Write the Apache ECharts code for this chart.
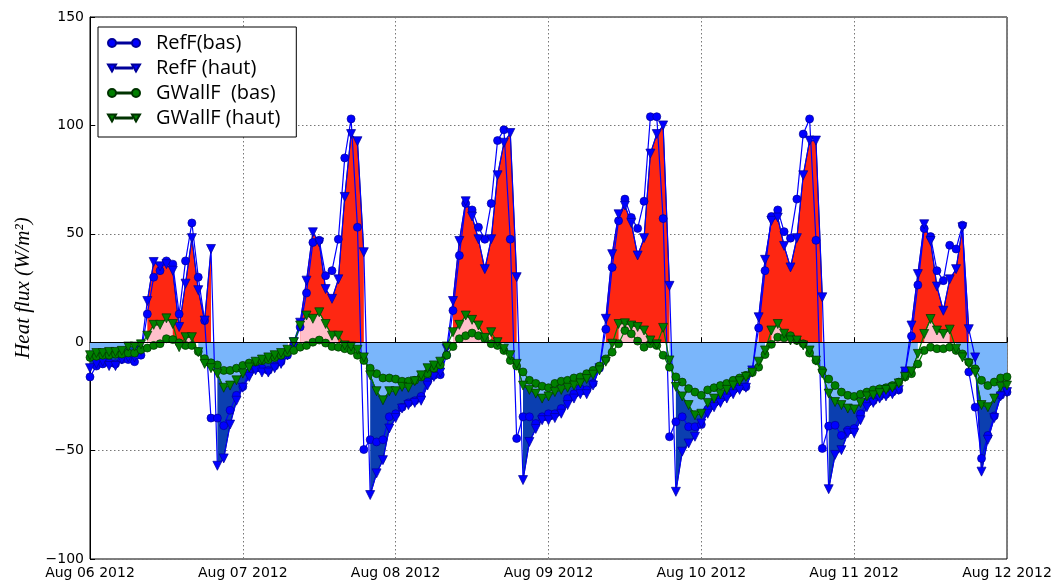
<!DOCTYPE html>
<html>
<head>
<meta charset="utf-8">
<script src="https://cdn.jsdelivr.net/npm/echarts@6/dist/echarts.min.js"></script>
<style>
  html, body { margin: 0; padding: 0; background: #fff; }
  #chart { width: 1057px; height: 580px; }
</style>
</head>
<body>
<div id="chart"></div>
<script>
// Hourly heat flux, 6 Aug 2012 00:00 to 12 Aug 2012 00:00 (one value per hour, 145 values)
const dayLabels = ['Aug 06 2012', 'Aug 07 2012', 'Aug 08 2012', 'Aug 09 2012', 'Aug 10 2012', 'Aug 11 2012', 'Aug 12 2012'];

const refBas = [
  -16, -11, -10, -9.5, -10, -8, -8, -9, -6, 13, 30, 33, 37.5, 36, 13, 37.5, 55, 30, 10, -35, -35, -38.5, -31.4, -24.5,
  -20.5, -14, -12, -12, -13, -11, -9, -6, -1, 7, 22.7, 46, 47, 30.7, 33, 47.5, 85, 103, 53, -49.5, -45, -46, -45, -34.4,
  -33, -30, -28, -27, -25, -18.3, -15.3, -15, -6, 14.6, 40, 64, 61, 53, 47.5, 64, 93, 98, 47.5, -44.4, -34.4, -34.4, -37.5, -34.4,
  -33, -33, -30.6, -26, -23.8, -21.4, -22, -19, -12, 6, 34.5, 56, 66, 57.5, 52.5, 65, 104, 104, 57, -43.6, -36.7, -34.4, -39, -39,
  -38, -31, -28, -26, -23.7, -22, -20.6, -20.6, -13, 6.6, 33, 58, 61, 51, 48, 66, 96, 103, 47, -49, -38.7, -38.3, -43, -40.6,
  -39.8, -33, -28, -27, -25, -24, -23, -22, -13.7, 2.8, 26.4, 52.4, 48.7, 33, 28.4, 44.7, 43, 54, -13.7, -30, -53.6, -43, -34, -24.5,
  -23
];

const refHaut = [
  -12, -10, -9, -11, -11, -8, -7, -7, -4, 19, 37, 35, 36, 33, 7, 27, 48, 24, 10, 43, -57, -53.6, -38, -27,
  -21, -16, -13, -14, -14, -12, -10, -6, 0, 9, 28.4, 50.7, 46, 24.5, 20, 29, 67, 96, 92.7, 41.5, -70.5, -60.5, -54.4, -39.8,
  -35, -30.6, -29, -28, -27, -20, -16, -14, -3, 19, 46.7, 65, 58, 47.5, 33.7, 47.5, 77, 92, 96.5, 30, -63.6, -46, -40, -36,
  -36, -35, -33, -29, -26, -24, -24, -20, -12, 10.8, 40.6, 59, 63, 55, 40, 48, 87, 96, 100, 26, -69, -50.5, -46.7, -43.6,
  -37.5, -33, -30, -28, -26, -24, -22, -21, -13, 11.5, 38, 56, 57.5, 44.4, 34.5, 48, 77, 93, 93, 20.7, -67.8, -52, -49.8, -42,
  -42, -36, -30, -28, -26, -25, -24, -22, -13.5, 7.7, 31.4, 54.4, 46.7, 25.7, 14.5, 29, 33.7, 53, 6, -7, -59.7, -45, -35, -25,
  -23
];

const gwallBas = [
  -7, -6.5, -6, -6, -5.5, -5.5, -5, -5, -3.5, -2.7, -1.5, -0.7, 1.6, 1.2, -0.3, -1.5, -1.5, -4.3, -7.6, -9.5, -10.5, -13, -13, -12,
  -10.7, -9.6, -9, -8.5, -8, -7, -6, -4.8, -3.8, -2.3, -1.5, 0, 1, -0.4, -2, -2.3, -3, -3.8, -6, -8.4, -12, -14.5, -16.5, -16.5,
  -17, -18, -18, -17.6, -16, -14.5, -12, -10.5, -6, -2, 1.6, 3, 4.2, 3, 1.6, -0.7, -1.5, -3.8, -8.4, -11, -13.7, -17.6, -19, -20.3,
  -21, -19, -18, -17.6, -16.5, -16, -14.5, -13, -11, -7.7, -4.6, -0.7, 5.4, 3.9, 0.5, -2.3, -0.7, -1.5, -6, -11.5, -16, -18.4, -21.4, -23,
  -24.5, -22, -21, -20, -19, -17.6, -16.5, -15.3, -14, -11.5, -5.7, -1, 2.3, 2, 3, 0.8, -0.7, -5, -8.4, -13, -17, -20, -23, -24.5,
  -25, -24, -23, -22, -21.5, -21, -20, -18.4, -16, -14.5, -10, -3.8, -2.3, -3, -3, -2.3, -3.8, -5.4, -9.2, -12.3, -17.6, -20, -18.4, -16.5,
  -16
];

const gwallHaut = [
  -6, -5, -5, -4.5, -4.5, -4, -2, -2, -1, 3, 8, 8, 11, 8.4, -2.3, 2.3, 2.3, -4.6, -10, -12, -14.5, -21, -20, -17.6,
  -14.5, -11.7, -9, -8, -7, -6, -5, -3.5, 0, 7.7, 12.3, 10.8, 13.8, 8.4, 3, 3, -1.5, -2, -3.5, -7, -15.3, -22.6, -26.8, -22.6,
  -22.6, -20.6, -21, -18, -15.3, -12, -10.7, -9, -2, 4.6, 8, 12.3, 10.3, 7.7, 2, 4.6, 0, -3, -6, -10, -20, -22, -23.7, -26,
  -25, -23, -22, -21, -20, -19, -17, -15, -13, -9, -0.7, 8.4, 8.7, 7.7, 7, 5.4, 0.8, -1, 6.6, -8.4, -20.6, -25, -29, -33.7,
  -33, -28, -26, -24, -22, -20, -18, -16, -14, -9, -3.8, 5.4, 8.4, 3.9, 0.8, 0.8, -1.5, -3.8, -8.5, -14.5, -23.7, -27.6, -29, -30.6,
  -31, -28, -25, -24.5, -23.5, -22, -21, -19, -16, -13.5, -5.4, 3.8, 10.7, 5.4, 3.8, 5.8, -3, -7, -10, -14, -29, -30, -26, -20.6,
  -20
];

const seriesNames = ['RefF(bas)', 'RefF (haut)', 'GWallF  (bas)', 'GWallF (haut)'];

// legend icons: line with a marker at each end
const ICON_CIRCLES = 'path://M0,4 A4,4 0 1 1 8,4 A4,4 0 1 1 0,4 Z M8,3.5 L24,3.5 L24,4.5 L8,4.5 Z M24,4 A4,4 0 1 1 32,4 A4,4 0 1 1 24,4 Z';
const ICON_TRIANGLES = 'path://M0,0.5 L8,0.5 L4,7.5 Z M8,3.5 L24,3.5 L24,4.5 L8,4.5 Z M24,0.5 L32,0.5 L28,7.5 Z';

const toPoints = arr => arr.map((v, i) => [i, v]);

// filled region between zero and the series, only where the sign condition holds
function fillSeries(src, positive, color) {
  return {
    type: 'line',
    data: src.map((v, i) => [i, positive ? (v > 0 ? v : null) : (v < 0 ? v : null)]),
    symbol: 'none',
    showSymbol: false,
    connectNulls: false,
    lineStyle: { width: 0.8, color: '#000' },
    areaStyle: { color: color, opacity: 1, origin: 0 },
    silent: true,
    z: 1
  };
}

function markerSeries(name, arr, color, edge, triangle) {
  return {
    name: name,
    type: 'line',
    data: toPoints(arr),
    symbol: triangle ? 'triangle' : 'circle',
    symbolRotate: triangle ? 180 : 0,
    symbolSize: triangle ? 9 : 8,
    showAllSymbol: true,
    lineStyle: { color: color, width: 1.2 },
    itemStyle: { color: color, borderColor: edge, borderWidth: 0.7 },
    z: 3
  };
}

const chart = echarts.init(document.getElementById('chart'), null, { renderer: 'canvas' });

chart.setOption({
  animation: false,
  backgroundColor: '#fff',
  grid: { left: 90, right: 50, top: 17, bottom: 19, show: true, borderColor: '#000', borderWidth: 1 },
  legend: {
    orient: 'vertical',
    left: 98,
    top: 27,
    padding: [5, 16, 8, 9],
    itemWidth: 32,
    itemHeight: 8,
    itemGap: 3,
    backgroundColor: '#fff',
    borderColor: '#000',
    borderWidth: 1,
    borderRadius: 0,
    selectedMode: false,
    textStyle: { fontFamily: 'Open Sans', fontSize: 20, color: '#000', lineHeight: 22, padding: [0, 0, 0, 11] },
    data: [
      { name: seriesNames[0], icon: ICON_CIRCLES },
      { name: seriesNames[1], icon: ICON_TRIANGLES },
      { name: seriesNames[2], icon: ICON_CIRCLES },
      { name: seriesNames[3], icon: ICON_TRIANGLES }
    ]
  },
  xAxis: {
    type: 'value',
    min: 0,
    max: 144,
    interval: 24,
    axisLine: { show: true, lineStyle: { color: '#000', width: 1 } },
    axisTick: { show: true, inside: true, length: 5, lineStyle: { color: '#000' } },
    axisLabel: {
      formatter: v => dayLabels[Math.round(v / 24)],
      fontFamily: 'DejaVu Sans',
      fontSize: 14,
      color: '#000',
      margin: 7,
      showMinLabel: true,
      showMaxLabel: true
    },
    splitLine: { show: true, lineStyle: { color: '#777', type: [1.5, 2.5], width: 1 } }
  },
  yAxis: {
    type: 'value',
    min: -100,
    max: 150,
    interval: 50,
    name: 'Heat flux (W/m²)',
    nameLocation: 'middle',
    nameGap: 56,
    nameRotate: 90,
    nameTextStyle: { fontFamily: 'Liberation Serif', fontStyle: 'italic', fontSize: 21, color: '#000' },
    axisLine: { show: true, lineStyle: { color: '#000', width: 1 } },
    axisTick: { show: true, inside: true, length: 5, lineStyle: { color: '#000' } },
    axisLabel: {
      formatter: v => String(v).replace('-', '\u2212'),
      fontFamily: 'DejaVu Sans',
      fontSize: 14,
      color: '#000',
      margin: 6
    },
    splitLine: { show: true, lineStyle: { color: '#777', type: [1.5, 2.5], width: 1 } }
  },
  series: [
    fillSeries(refHaut, true, '#fe2712'),
    fillSeries(refHaut, false, '#0b3fb0'),
    fillSeries(gwallHaut, true, '#ffc0cb'),
    fillSeries(gwallHaut, false, '#7ab6fb'),
    {
      type: 'line',
      data: [],
      silent: true,
      z: 2,
      markLine: {
        silent: true,
        symbol: 'none',
        label: { show: false },
        lineStyle: { color: '#000', width: 1, type: 'solid' },
        data: [{ yAxis: 0 }]
      }
    },
    markerSeries(seriesNames[0], refBas, '#0000ff', '#00009a', false),
    markerSeries(seriesNames[1], refHaut, '#0000ff', '#00009a', true),
    markerSeries(seriesNames[2], gwallBas, '#008000', '#003300', false),
    markerSeries(seriesNames[3], gwallHaut, '#008000', '#003300', true)
  ]
});
</script>
</body>
</html>
